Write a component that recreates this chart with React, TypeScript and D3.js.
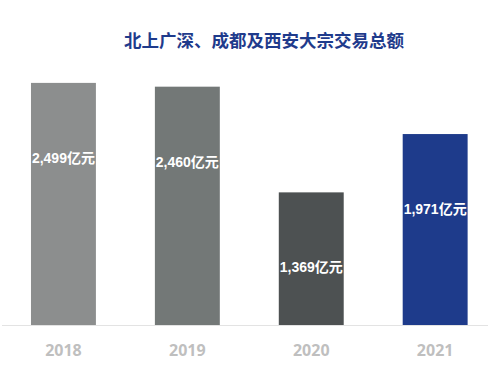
import React from 'react';
import * as d3 from 'd3';

const years = ['2018', '2019', '2020', '2021'];
const totals = [2499, 2460, 1369, 1971];
const barColors = ['#8c8e8e', '#737877', '#4d5152', '#1e3b8b'];
const title = '北上广深、成都及西安大宗交易总额';

const W = 500, H = 365;
const baseY = 325;

export default function App() {
  const x = d3.scaleBand<string>()
    .domain(years)
    .range([6.2, 492.4])
    .paddingInner(0.476)
    .paddingOuter(0.2);
  const y = d3.scaleLinear().domain([0, 2500]).range([baseY, 82.8]);
  const fmt = d3.format(',');

  return (
    <svg width={W} height={H} style={{ position: 'absolute', left: 0, top: 0, background: '#fff' }}>
      <text x={264} y={39} textAnchor="middle" dominantBaseline="central"
        fontFamily="'Noto Sans CJK SC', sans-serif" fontWeight="bold" fontSize={17.5} fill="#1f3b8c">
        {title}
      </text>
      {years.map((yr, i) => (
        <g key={yr}>
          <rect x={x(yr)} y={y(totals[i])} width={x.bandwidth()} height={baseY - y(totals[i])} fill={barColors[i]} />
          <text x={(x(yr) as number) + x.bandwidth() / 2} y={y(totals[i]) + 75} textAnchor="middle" dominantBaseline="central"
            fontFamily="'Liberation Sans', 'Noto Sans CJK SC', sans-serif" fontWeight="bold" fontSize={14} fill="#fff">
            {fmt(totals[i])}亿元
          </text>
          <text x={(x(yr) as number) + x.bandwidth() / 2} y={350} textAnchor="middle" dominantBaseline="central"
            fontFamily="'Open Sans', sans-serif" fontWeight="bold" fontSize={16} fill="#bfbfbf">
            {yr}
          </text>
        </g>
      ))}
      <line x1={2} x2={488} y1={baseY + 0.5} y2={baseY + 0.5} stroke="#e3e3e3" strokeWidth={1} />
    </svg>
  );
}
